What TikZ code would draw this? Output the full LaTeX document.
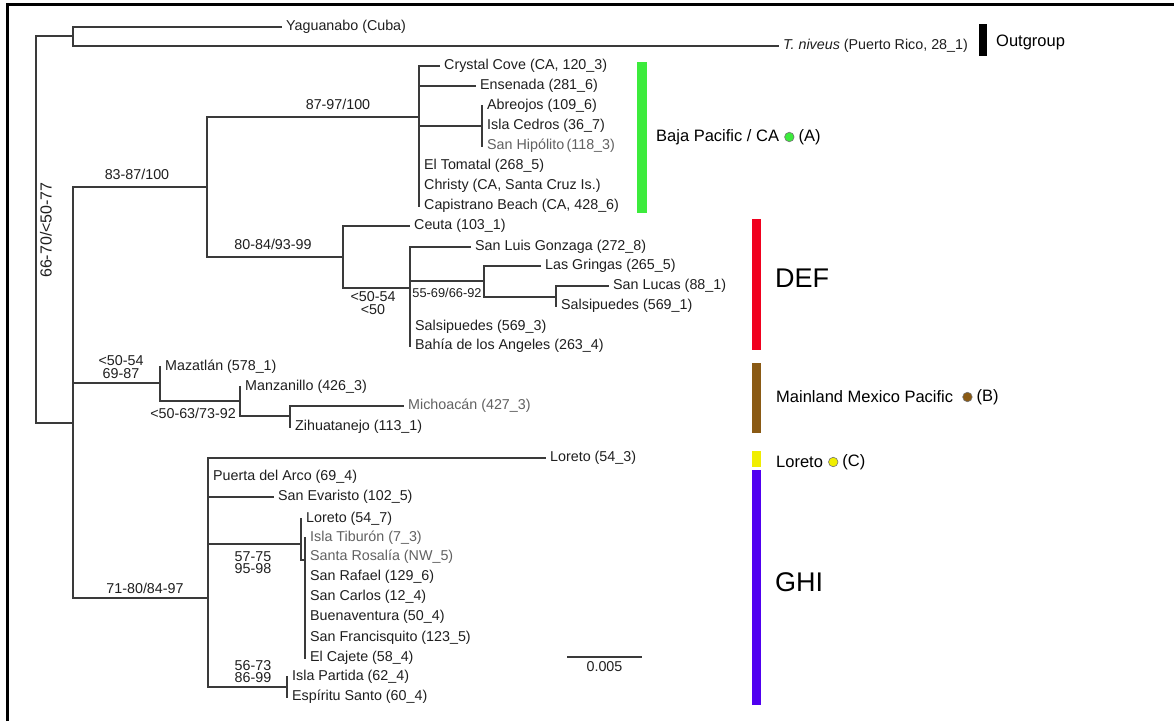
\documentclass[tikz,border=0pt]{standalone}
\usepackage{fontspec}
\setmainfont{Liberation Sans}
\usetikzlibrary{positioning}
\definecolor{branchgray}{HTML}{3A3A3A}
\definecolor{bajagreen}{HTML}{3CEB3C}
\definecolor{defred}{HTML}{F0001E}
\definecolor{mxbrown}{HTML}{8A5A14}
\definecolor{loryellow}{HTML}{F0EE00}
\definecolor{ghiblue}{HTML}{5000F0}
\tikzset{
  branch/.style={draw=branchgray, line width=1.4pt, line cap=rect},
  tip/.style={anchor=west, inner xsep=5pt, inner ysep=1pt, text=black!88,
    font=\fontsize{14.3}{16}\selectfont},
  tipgray/.style={tip, text=black!62},
  support/.style={inner sep=0pt, align=center, text=black!88,
    font=\fontsize{14.3}{13}\selectfont},
  grp/.style={anchor=west, inner sep=2pt, font=\fontsize{16.5}{18}\selectfont},
  biggrp/.style={anchor=west, inner sep=2pt, font=\fontsize{27}{30}\selectfont},
  dot/.style={circle, inner sep=0pt, minimum size=9.5pt, draw=black!55, line width=0.6pt}
}
\begin{document}
\begin{tikzpicture}[x=1pt, y=-1pt]
  \useasboundingbox (0,0) rectangle (1174,721);
  \fill[white] (0,0) rectangle (1174,721);
  % frame
  \draw[line width=3pt] (7,721) -- (7,4) -- (1174,4);

  % internal nodes
  \coordinate (root) at (36,230);
  \coordinate (og) at (73,36);
  \coordinate (ing) at (73,423);
  \coordinate (bd) at (207,187);
  \coordinate (baja) at (419,117);
  \coordinate (abr) at (482,126);
  \coordinate (def) at (343,257);
  \coordinate (gulf) at (410,288);
  \coordinate (gri) at (484,281);
  \coordinate (luc) at (556,297);
  \coordinate (mx) at (160,383);
  \coordinate (mz) at (240,401);
  \coordinate (mi) at (290,416);
  \coordinate (ghi) at (208,598);
  \coordinate (cor) at (301,544);
  \coordinate (cor2) at (305,560);
  \coordinate (par) at (287,687);

  % tips
  \node[tip] (yag) at (281,27) {Yaguanabo (Cuba)};
  \node[tip] (niv) at (778,46) {\textit{T. niveus} (Puerto Rico, 28\_1)};
  \node[tip] (cc) at (439,66) {Crystal Cove (CA, 120\_3)};
  \node[tip] (ens) at (475,86) {Ensenada (281\_6)};
  \node[tip] (abr1) at (482,106) {Abreojos (109\_6)};
  \node[tip] (ced) at (482,126) {Isla Cedros (36\_7)};
  \node[tipgray] (hip) at (482,146) {San Hipólito\,(118\_3)};
  \node[tip] (tom) at (419,166) {El Tomatal (268\_5)};
  \node[tip] (chr) at (419,186) {Christy (CA, Santa Cruz Is.)};
  \node[tip] (cap) at (419,206) {Capistrano Beach (CA, 428\_6)};
  \node[tip] (ceu) at (409,226) {Ceuta (103\_1)};
  \node[tip] (slg) at (470,247) {San Luis Gonzaga (272\_8)};
  \node[tip] (grn) at (540,266) {Las Gringas (265\_5)};
  \node[tip] (lucas) at (608,286) {San Lucas (88\_1)};
  \node[tip] (sal1) at (556,306) {Salsipuedes (569\_1)};
  \node[tip] (sal3) at (410,327) {Salsipuedes (569\_3)};
  \node[tip] (bah) at (410,346) {Bahía de los Angeles (263\_4)};
  \node[tip] (maz) at (160,367) {Mazatlán (578\_1)};
  \node[tip] (man) at (240,387) {Manzanillo (426\_3)};
  \node[tipgray] (mic) at (403,406) {Michoacán (427\_3)};
  \node[tip] (zih) at (290,427) {Zihuatanejo (113\_1)};
  \node[tip] (lor3) at (545,458) {Loreto (54\_3)};
  \node[tip] (pue) at (208,477) {Puerta del Arco (69\_4)};
  \node[tip] (eva) at (273,497) {San Evaristo (102\_5)};
  \node[tip] (lor7) at (301,519) {Loreto (54\_7)};
  \node[tipgray] (tib) at (305,538) {Isla Tiburón (7\_3)};
  \node[tipgray] (ros) at (305,557) {Santa Rosalía (NW\_5)};
  \node[tip] (raf) at (305,577) {San Rafael (129\_6)};
  \node[tip] (car) at (305,597) {San Carlos (12\_4)};
  \node[tip] (bue) at (305,617) {Buenaventura (50\_4)};
  \node[tip] (fra) at (305,638) {San Francisquito (123\_5)};
  \node[tip] (caj) at (305,658) {El Cajete (58\_4)};
  \node[tip] (ipa) at (287,677) {Isla Partida (62\_4)};
  \node[tip] (esp) at (287,697) {Espíritu Santo (60\_4)};

  % branches
  \draw[branch] (root) |- (og) (root) |- (ing);
  \draw[branch] (og) |- (yag.west) (og) |- (niv.west);
  \draw[branch] (ing) |- (bd) (ing) |- (mx) (ing) |- (ghi);
  \draw[branch] (bd) |- (baja) (bd) |- (def);
  \draw[branch] (baja) |- (cc.west) (baja) |- (ens.west) (baja) |- (abr)
    (baja) |- (tom.west) (baja) |- (chr.west) (baja) |- (cap.west);
  \draw[branch] (abr) |- (abr1.west) (abr) |- (ced.west) (abr) |- (hip.west);
  \draw[branch] (def) |- (ceu.west) (def) |- (gulf);
  \draw[branch] (gulf) |- (slg.west) (gulf) |- (gri) (gulf) |- (sal3.west) (gulf) |- (bah.west);
  \draw[branch] (gri) |- (grn.west) (gri) |- (luc);
  \draw[branch] (luc) |- (lucas.west) (luc) |- (sal1.west);
  \draw[branch] (mx) |- (maz.west) (mx) |- (mz);
  \draw[branch] (mz) |- (man.west) (mz) |- (mi);
  \draw[branch] (mi) |- (mic.west) (mi) |- (zih.west);
  \draw[branch] (ghi) |- (lor3.west) (ghi) |- (pue.west) (ghi) |- (eva.west)
    (ghi) |- (cor) (ghi) |- (par);
  \draw[branch] (cor) |- (lor7.west) (cor) |- (cor2);
  \draw[branch] (cor2) |- (tib.west) (cor2) |- (caj.west);
  \draw[branch] (par) |- (ipa.west) (par) |- (esp.west);

  % support values
  \node[support, rotate=90, font=\fontsize{16}{18}\selectfont] (s0) at (46,230) {66-70/<50-77};
  \node[support] (s1) at (137,174) {83-87/100};
  \node[support] (s2) at (338,104) {87-97/100};
  \node[support] (s3) at (273,244) {80-84/93-99};
  \node[support] (s4) at (373,303.5) {<50-54\\<50};
  \node[support, font=\fontsize{12.8}{14}\selectfont] (s5) at (447,293) {55-69/66-92};
  \node[support] (s6) at (121,367.5) {<50-54\\69-87};
  \node[support] (s7) at (193,413) {<50-63/73-92};
  \node[support] (s8) at (145,588) {71-80/84-97};
  \node[support, font=\fontsize{14.3}{12}\selectfont] (s9) at (253,563) {57-75\\95-98};
  \node[support, font=\fontsize{14.3}{12}\selectfont] (s10) at (253,671.5) {56-73\\86-99};

  % scale bar
  \coordinate (sbl) at (567,657);
  \coordinate (sbr) at (642,657);
  \draw[branch, line cap=butt] (sbl) -- (sbr) node[midway, below=4pt, support] (sbt) {0.005};

  % groups
  \fill[black] (979,24) rectangle (987,56);
  \node[grp] (gOut) at (994,42) {Outgroup};
  \fill[bajagreen] (637,62) rectangle (647,213);
  \node[grp] (gA) at (654,137) {Baja Pacific / CA};
  \node[dot, fill=bajagreen, right=3pt of gA] (dA) {};
  \node[grp, right=2pt of dA] (lA) {(A)};
  \fill[defred] (752,219) rectangle (761,350);
  \node[biggrp] (gDEF) at (773,278) {DEF};
  \fill[mxbrown] (752,363) rectangle (761,433);
  \node[grp] (gB) at (774,397) {Mainland Mexico Pacific};
  \node[dot, fill=mxbrown, right=7pt of gB] (dB) {};
  \node[grp, right=2pt of dB] (lB) {(B)};
  \fill[loryellow] (752,451) rectangle (761,467);
  \node[grp] (gC) at (774,462) {Loreto};
  \node[dot, fill=loryellow, right=3pt of gC] (dC) {};
  \node[grp, right=2pt of dC] (lC) {(C)};
  \fill[ghiblue] (752,470) rectangle (761,705);
  \node[biggrp] (gGHI) at (773,582) {GHI};
\end{tikzpicture}
\end{document}
